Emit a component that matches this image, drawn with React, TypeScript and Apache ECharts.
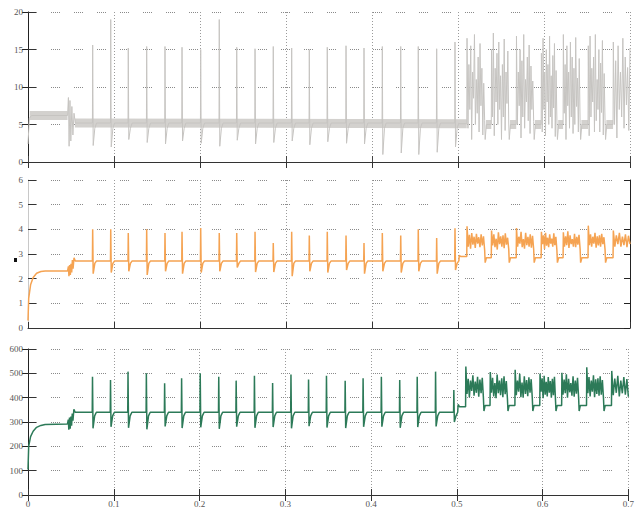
import React, { useEffect, useRef } from "react";
import * as echarts from "echarts";

type P = [number, number];

// ---- shared time structure (seconds) ----
const spikeTimes = [
  0.0752, 0.0962, 0.1166, 0.138, 0.1593, 0.1791, 0.2008, 0.2224, 0.2427, 0.264, 0.2852,
  0.3066, 0.3271, 0.348, 0.3698, 0.3907, 0.412, 0.4334, 0.4538, 0.4752, 0.4965,
];
const burstStarts = [0.5105, 0.539, 0.568, 0.597, 0.6225, 0.6515, 0.6806];
const burstEnds = [0.531, 0.559, 0.588, 0.615, 0.642, 0.671, 0.7];

// ---- panel 1 (gray) ----
const grayStartup: P[] = [[0, 2.4], [0.0015, 5.8], [0.004, 6.2], [0.046, 6.2]];
const grayTransition: P[] = [
  [0.047, 8.6], [0.0478, 2.1], [0.0488, 8.2], [0.0498, 2.8], [0.051, 7.4],
  [0.0522, 3.6], [0.0535, 6.5], [0.055, 5.2],
];
const grayLevel = 5.2;
const grayRecover = 4.5;
const grayPeaks = [
  15.6, 19.0, 15.2, 15.4, 15.4, 15.3, 15.0, 19.0, 15.3, 15.1, 15.4, 15.2, 15.0, 15.3,
  15.5, 15.2, 15.4, 15.4, 15.4, 15.1, 16.0,
];
const grayDips = [
  2.2, 2.0, 3.0, 2.6, 2.4, 2.8, 2.5, 2.1, 2.9, 2.4, 2.6, 2.8, 2.3, 2.7, 2.5, 2.4, 1.0,
  1.2, 1.0, 1.3, 2.0,
];
const graySwitch: P[] = [[0.502, 5.1], [0.5102, 5.1]];
const grayGapLevel = 5.0;
const grayGapDip = 3.0;
const grayBursts = [
  [16.5, 4.5, 13, 7, 15.5, 3, 12, 8.5, 17, 5, 11, 6.5, 14, 4, 15.8, 7.5, 12.5, 3.6, 10.5, 5.5],
  [15, 6, 17.2, 3.5, 12.5, 8, 14.5, 5, 16, 7, 11.5, 3, 13, 6, 16.4, 4.2, 12, 7.8, 14.8, 5.2],
  [16.8, 5, 12, 7.5, 15, 3.2, 13.5, 6, 17, 4.5, 11, 8, 14, 5.5, 15.6, 3.8, 12.8, 7, 10.8, 5.4],
  [14.5, 4, 16.5, 7, 12, 3.5, 15, 8, 13, 5, 16.8, 6, 11.5, 4.5, 14.2, 7.2, 15.8, 3.4, 12.2, 5.6],
  [17, 6.5, 13, 3, 15.5, 7.5, 12, 4.5, 16, 6, 14, 3.8, 12.5, 5, 16.6, 7.4, 11.2, 4, 13.8, 5.3],
  [15.5, 3.5, 16.8, 6, 12.5, 8, 14, 4, 17, 5.5, 11, 7, 15, 4, 13.2, 6.6, 16.2, 3.6, 11.8, 5.5],
  [16, 5, 13.5, 3.2, 15.5, 7, 12, 6, 16.5, 4.5, 14, 7.6, 12.6, 4.2, 15.2],
];
const grayBandStartup: P[] = [[0.002, 6.2], [0.046, 6.2]];
const grayBandSteady: P[] = [[0.0545, 5.2], [0.5102, 5.1]];

// ---- panel 2 (orange) ----
const orangeStartup: P[] = [
  [0, 0.3], [0.0008, 1.2], [0.003, 1.75], [0.006, 2.05], [0.01, 2.22], [0.015, 2.29],
  [0.02, 2.31], [0.046, 2.31],
];
const orangeTransition: P[] = [
  [0.047, 2.5], [0.0476, 2.1], [0.0484, 2.55], [0.0492, 2.15], [0.05, 2.6], [0.0508, 2.25],
  [0.0516, 2.75], [0.0524, 2.4], [0.0535, 2.85], [0.055, 2.72],
];
const orangeLevel = 2.72;
const orangeRecover = 2.62;
const orangePeaks = [
  4.0, 4.0, 3.85, 4.0, 3.85, 3.9, 4.05, 3.85, 3.85, 3.9, 3.45, 3.9, 3.75, 3.9, 3.75, 3.45,
  3.85, 3.75, 4.0, 3.65, 4.04,
];
const orangeDips = [
  2.2, 2.25, 2.3, 2.15, 2.3, 2.2, 2.25, 2.3, 2.45, 2.27, 2.27, 2.1, 2.3, 2.25, 2.35, 2.2,
  2.3, 2.25, 2.3, 2.2, 2.35,
];
const orangeSwitch: P[] = [[0.5015, 2.95], [0.503, 2.9], [0.5102, 2.9]];
const orangeGapLevel = 2.85;
const orangeGapDip = 2.65;
const orangeBursts = [
  [4.12, 3.3, 3.78, 3.22, 3.85, 3.38, 3.7, 3.25, 3.82, 3.42, 3.68, 3.28, 3.8, 3.35, 3.72, 3.15],
  [3.95, 3.35, 3.8, 3.28, 3.62, 3.18, 3.88, 3.4, 3.72, 3.3, 3.76, 3.24, 3.84, 3.38, 3.66, 3.2],
  [4.05, 3.3, 3.7, 3.42, 3.9, 3.28, 3.6, 3.22, 3.86, 3.36, 3.7, 3.3, 3.8, 3.26, 3.74, 3.18],
  [3.9, 3.4, 3.76, 3.2, 3.86, 3.34, 3.66, 3.28, 3.8, 3.42, 3.62, 3.3, 3.84, 3.36, 3.7, 3.15],
  [3.88, 3.3, 3.72, 3.36, 3.92, 3.25, 3.76, 3.4, 3.6, 3.3, 3.82, 3.28, 3.7, 3.38, 3.78, 3.2],
  [4.15, 3.36, 3.8, 3.3, 3.7, 3.42, 3.86, 3.26, 3.72, 3.35, 3.76, 3.3, 3.82, 3.4, 3.68, 3.18],
  [3.95, 3.3, 3.76, 3.4, 3.86, 3.3, 3.7, 3.36, 3.8, 3.28, 3.74, 3.4],
];

// ---- panel 3 (green) ----
const greenStartup: P[] = [
  [0, 105], [0.0008, 200], [0.003, 240], [0.006, 262], [0.01, 278], [0.015, 286],
  [0.02, 290], [0.046, 292],
];
const greenTransition: P[] = [
  [0.047, 310], [0.0476, 268], [0.0484, 318], [0.0492, 272], [0.05, 322], [0.0508, 285],
  [0.0516, 335], [0.0524, 305], [0.0535, 352], [0.055, 340],
];
const greenLevel = 340;
const greenRecover = 325;
const greenPeaks = [
  486, 473, 507, 500, 459, 480, 500, 486, 470, 490, 460, 495, 475, 490, 470, 480, 486,
  473, 486, 507, 431,
];
const greenDips = [
  274, 280, 276, 270, 282, 275, 278, 272, 281, 276, 279, 274, 283, 277, 275, 280, 281,
  276, 279, 282, 300,
];
const greenSwitch: P[] = [[0.5015, 372], [0.503, 363], [0.5102, 363]];
const greenGapLevel = 368;
const greenGapDip = 345;
const greenBursts = [
  [528, 415, 478, 402, 470, 428, 492, 408, 466, 420, 486, 404, 474, 418, 482, 398],
  [505, 420, 482, 405, 460, 398, 495, 418, 470, 410, 480, 402, 488, 414, 468, 395],
  [515, 410, 470, 425, 498, 402, 462, 400, 488, 415, 472, 406, 484, 420, 476, 396],
  [498, 425, 480, 398, 490, 412, 465, 405, 485, 420, 468, 400, 478, 410, 486, 392],
  [502, 412, 474, 418, 496, 400, 478, 422, 460, 408, 488, 404, 470, 416, 482, 398],
  [525, 418, 485, 405, 470, 425, 492, 402, 475, 415, 480, 408, 488, 412, 472, 396],
  [510, 410, 478, 420, 490, 405, 470, 418, 485, 412, 476, 404],
];

// ---- axes ----
const xMin = 0;
const xMax = 0.7;
const xStep = 0.1;
const yRanges = [
  { min: 0, max: 20, step: 5 },
  { min: 0, max: 6, step: 1 },
  { min: 0, max: 600, step: 100 },
];

type Cfg = {
  startup: P[];
  transition: P[];
  level: number;
  recover: number;
  peaks: number[];
  dips: number[];
  switchPts: P[];
  bursts: number[][];
  gapLevel: number;
  gapDip: number;
};

function buildSignal(c: Cfg): P[] {
  const out: P[] = [...c.startup, ...c.transition];
  spikeTimes.forEach((t, i) => {
    out.push(
      [t - 0.0003, c.level],
      [t, c.peaks[i]],
      [t + 0.0006, c.dips[i]],
      [t + 0.0025, c.recover],
      [t + 0.0045, c.level]
    );
  });
  out.push(...c.switchPts);
  burstStarts.forEach((b, i) => {
    const e = burstEnds[i];
    const vals = c.bursts[i];
    vals.forEach((v, k) => out.push([b + ((e - b) * k) / (vals.length - 1), v]));
    if (i < burstStarts.length - 1) {
      out.push([e + 0.0006, c.gapDip], [e + 0.002, c.gapLevel], [burstStarts[i + 1] - 0.0003, c.gapLevel]);
    }
  });
  return out;
}

const labelStyle = { fontFamily: "Liberation Serif", fontSize: 9, color: "#555" };
const hGrid = { show: true, lineStyle: { color: "#8a8a8a", width: 1, type: [1, 1, 1, 1, 1, 1, 1, 1, 1, 14] } };
const vGrid = { show: true, lineStyle: { color: "#9a9a9a", width: 1, type: [1, 2] } };

export default function App() {
  const ref = useRef<HTMLDivElement>(null);
  useEffect(() => {
    if (!ref.current) return;
    const chart = echarts.init(ref.current, undefined, { renderer: "svg" });

    const gray = buildSignal({
      startup: grayStartup, transition: grayTransition, level: grayLevel, recover: grayRecover,
      peaks: grayPeaks, dips: grayDips, switchPts: graySwitch, bursts: grayBursts,
      gapLevel: grayGapLevel, gapDip: grayGapDip,
    });
    const orange = buildSignal({
      startup: orangeStartup, transition: orangeTransition, level: orangeLevel, recover: orangeRecover,
      peaks: orangePeaks, dips: orangeDips, switchPts: orangeSwitch, bursts: orangeBursts,
      gapLevel: orangeGapLevel, gapDip: orangeGapDip,
    });
    const green = buildSignal({
      startup: greenStartup, transition: greenTransition, level: greenLevel, recover: greenRecover,
      peaks: greenPeaks, dips: greenDips, switchPts: greenSwitch, bursts: greenBursts,
      gapLevel: greenGapLevel, gapDip: greenGapDip,
    });

    const bandSegments: P[][] = [grayBandStartup, grayBandSteady];
    for (let i = 0; i < burstStarts.length - 1; i++) {
      bandSegments.push([[burstEnds[i] + 0.0015, grayGapLevel], [burstStarts[i + 1] - 0.0003, grayGapLevel]]);
    }

    const grids = [
      { left: 28, right: 7, top: 12, height: 150 },
      { left: 28, right: 7, top: 180, height: 148 },
      { left: 28, right: 7, top: 349, height: 146 },
    ];

    const xAxisBase = (g: number) => ({
      type: "value", gridIndex: g, min: xMin, max: xMax, interval: xStep,
    });
    const xAxes: any[] = [
      { ...xAxisBase(0), axisLine: { show: true, lineStyle: { color: "#d4d4d4" } },
        axisTick: { show: true, inside: true, length: 6, lineStyle: { color: "#444" } },
        axisLabel: { show: false }, splitLine: vGrid },
      { ...xAxisBase(0), position: "top", axisLine: { show: true, lineStyle: { color: "#333" } },
        axisTick: { show: true, inside: true, length: 6, lineStyle: { color: "#333" } },
        axisLabel: { show: false }, splitLine: { show: false } },
      { ...xAxisBase(1), axisLine: { show: true, lineStyle: { color: "#333" } },
        axisTick: { show: true, inside: true, length: 6, lineStyle: { color: "#333" } },
        axisLabel: { show: false }, splitLine: vGrid },
      { ...xAxisBase(2), axisLine: { show: true, lineStyle: { color: "#5a4a40" } },
        axisTick: { show: true, inside: true, length: 6, lineStyle: { color: "#333" } },
        axisLabel: { show: true, ...labelStyle, margin: 4,
          formatter: (v: number) => String(Math.round(v * 10) / 10) },
        splitLine: vGrid },
      { ...xAxisBase(2), position: "top", axisLine: { show: true, lineStyle: { color: "#333" } },
        axisTick: { show: true, inside: true, length: 6, lineStyle: { color: "#333" } },
        axisLabel: { show: false }, splitLine: { show: false } },
    ];

    const yAxes: any[] = [];
    yRanges.forEach((r, g) => {
      yAxes.push({
        type: "value", gridIndex: g, min: r.min, max: r.max, interval: r.step,
        axisLine: { show: true, lineStyle: { color: "#c8c8c8" } },
        axisTick: { show: true, inside: true, length: 8, lineStyle: { color: "#333" } },
        axisLabel: { show: true, ...labelStyle, margin: 5 },
        splitLine: hGrid,
      });
      yAxes.push({
        type: "value", gridIndex: g, position: "right", min: r.min, max: r.max, interval: r.step,
        axisLine: { show: true, lineStyle: { color: "#222" } },
        axisTick: { show: true, inside: true, length: 6, lineStyle: { color: "#222" } },
        axisLabel: { show: false }, splitLine: { show: false },
      });
    });

    const series: any[] = [];
    bandSegments.forEach((seg) => {
      series.push({
        type: "line", xAxisIndex: 0, yAxisIndex: 0, data: seg, showSymbol: false,
        lineStyle: { color: "#d3d1ce", width: 9, cap: "butt" }, silent: true, z: 1,
      });
    });
    series.push({
      type: "line", xAxisIndex: 0, yAxisIndex: 0, data: gray, showSymbol: false,
      lineStyle: { color: "#c6c4c1", width: 1 }, z: 2,
    });
    series.push({
      type: "line", xAxisIndex: 2, yAxisIndex: 2, data: orange, showSymbol: false,
      lineStyle: { color: "#f5a352", width: 1.5 }, z: 2,
    });
    series.push({
      type: "line", xAxisIndex: 3, yAxisIndex: 4, data: green, showSymbol: false,
      lineStyle: { color: "#2c7a58", width: 1.5 }, z: 2,
    });

    chart.setOption({
      animation: false,
      backgroundColor: "#ffffff",
      grid: grids,
      xAxis: xAxes,
      yAxis: yAxes,
      series,
      graphic: [
        { type: "rect", shape: { x: 14, y: 258, width: 3, height: 4 }, style: { fill: "#111" } },
      ],
    });
    return () => chart.dispose();
  }, []);

  return (
    <div
      ref={ref}
      style={{ position: "absolute", left: 0, top: 0, width: 637, height: 508 }}
    />
  );
}
